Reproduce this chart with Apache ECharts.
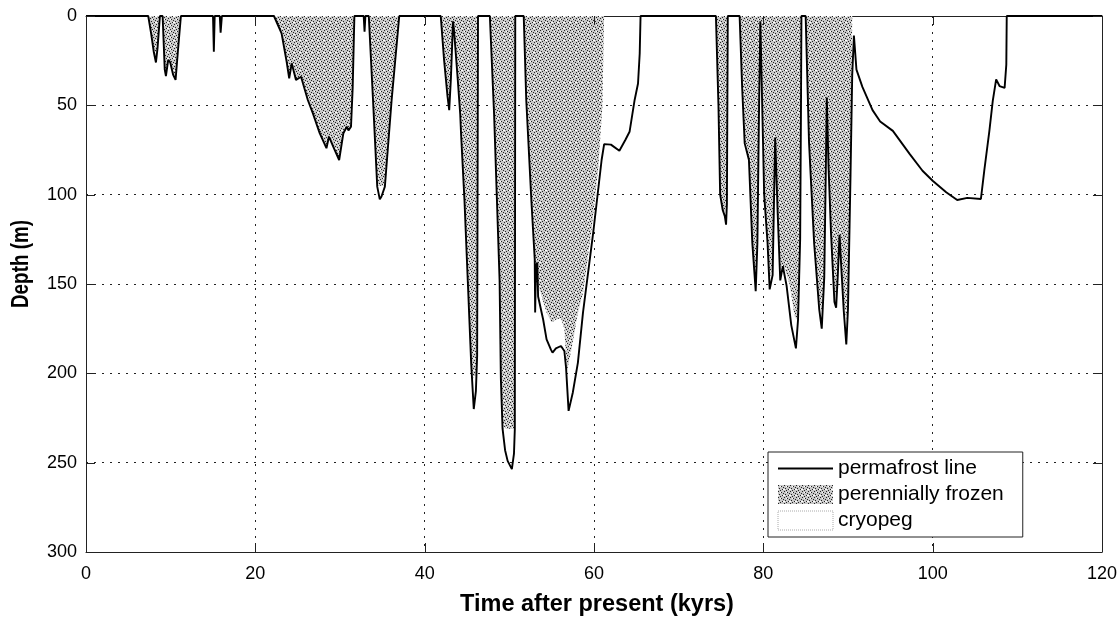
<!DOCTYPE html>
<html>
<head>
<meta charset="utf-8">
<script src="https://cdn.jsdelivr.net/npm/echarts@6.0.0/dist/echarts.min.js"></script>
<style>html,body{margin:0;padding:0;background:#fff}#c{width:1120px;height:623px}</style>
</head>
<body>
<div id="c"></div>
<script>
// Time after present (kyrs), depth (m)
const timeTicks = [0, 20, 40, 60, 80, 100, 120];
const depthTicks = [0, 50, 100, 150, 200, 250, 300];

const permafrostLine = [
  [0,0],
  [7.35,0],[7.7,10],[8.0,20],[8.26,26],[8.45,18],[8.73,0],
  [9.05,0],[9.3,30],[9.44,33.6],[9.71,24.6],[9.95,26],[10.3,33],[10.58,35.8],[10.85,20],[11.21,0],
  [15.0,0],[15.1,20],[15.2,0],[15.8,0],[15.9,9.3],[16.05,0],
  [22.2,0],[23.1,9.7],[23.7,25.6],[24.0,34.9],[24.3,26.5],[24.8,35.8],[25.4,34],[26.2,47],[26.8,54.5],
  [27.6,65.6],[28.4,74],[28.7,67.5],[29.2,73.1],[29.9,80.6],[30.4,65.6],[30.8,62],[31.0,64],[31.3,62],[31.5,40],[31.7,0],
  [32.8,0],[32.9,8.8],[33.0,0],
  [33.4,0],[33.9,47],[34.4,95.5],[34.7,102.6],[34.9,101],[35.3,95.5],[36.1,47],[37.0,0],
  [41.9,0],[42.3,25],[42.7,45],[42.9,52.7],[43.1,35],[43.35,3],[43.5,10],[43.9,35],[44.2,55],[44.3,66],
  [44.7,103],[45.1,149],[45.5,195],[45.8,220],[46.05,210],[46.2,190],[46.3,0],
  [47.7,0],[48.2,55],[48.85,148],[49.0,203],[49.2,231],[49.5,243],[49.8,249],[50.3,253.6],[50.55,245],[50.65,231],[50.7,0],
  [51.7,0],[52.0,47],[52.6,103],[53.0,136],[53.05,166],[53.15,140],[53.3,138],[53.4,157],[54.0,170],[54.4,181],
  [54.9,186.6],[55.1,188.4],[55.5,186],[56.1,184.7],[56.5,187.5],[56.7,196.8],[57.0,221],[57.5,210.7],[58.1,194],
  [58.7,166],[59.9,121.5],[60.9,80.6],[61.2,71.7],[62.0,72],[63.0,75.4],[63.7,69.4],[64.2,64.8],[64.8,47],
  [65.2,37.8],[65.4,21],[65.5,0],
  [74.4,0],[74.7,50],[74.9,100],[75.2,108.5],[75.45,112],[75.6,116.8],[75.7,105],[75.8,0],
  [77.2,0],[77.5,40],[77.8,71.3],[78.3,80.6],[78.7,127],[79.1,154],[79.3,127],[79.5,50],[79.65,3],
  [79.75,3],[80.1,100],[80.5,127],[80.75,153],[81.1,145],[81.4,68],[81.7,111],[82.0,148],[82.3,140],[82.5,141],
  [82.75,151],[83.3,173],[83.85,186],[84.1,170],[84.35,125],[84.45,50],[84.5,0],
  [85.0,0],[85.4,71],[86.0,127],[86.6,164],[86.9,175],[87.2,146],[87.4,80],[87.5,45.6],[87.7,84],[88.0,122],
  [88.4,160],[88.6,163.3],[88.8,145],[89.0,122.4],[89.2,140],[89.5,165],[89.8,183.8],[90.0,164],[90.3,89],
  [90.5,33],[90.7,11],[91.0,30],[91.7,39.7],[92.9,52.7],[93.8,59],[95.3,64.3],[97.3,77.3],[98.8,86.6],
  [100.0,92.2],[101.6,98.7],[102.9,103],[104.1,101.8],[105.7,102.4],[106.1,86.4],[106.7,64.3],[107.1,47.5],
  [107.5,35.5],[107.9,39.2],[108.5,40.2],[108.7,27.2],[108.75,0],
  [120,0]
];

const perenniallyFrozen = [
  [0,0],
  [7.35,0],[7.7,10],[8.0,20],[8.26,24],[8.45,18],[8.73,0],
  [9.05,0],[9.3,30],[9.44,32],[9.71,24.6],[9.95,26],[10.3,33],[10.58,34],[10.85,20],[11.21,0],
  [15.0,0],[15.1,18],[15.2,0],[15.8,0],[15.9,8],[16.05,0],
  [22.2,0],[23.1,9.7],[23.7,25.6],[24.0,34.9],[24.3,26.5],[24.8,35.8],[25.4,34],[26.2,47],[26.8,54.5],
  [27.6,65.6],[28.4,74],[28.7,67.5],[29.2,73.1],[29.9,80],[30.4,65.6],[30.8,62],[31.0,64],[31.3,62],[31.5,40],[31.7,0],
  [32.8,0],[32.9,8],[33.0,0],
  [33.4,0],[33.9,47],[34.4,95],[34.6,96],[35.2,95],[36.1,47],[37.0,0],
  [41.9,0],[42.3,25],[42.7,45],[42.9,52],[43.1,35],[43.35,3],[43.5,10],[43.9,35],[44.2,55],[44.3,66],
  [44.7,103],[45.1,149],[45.5,195],[45.7,203],[46.15,200],[46.25,150],[46.3,0],
  [47.7,0],[48.2,55],[48.85,148],[49.0,203],[49.2,229],[49.6,231],[50.6,231],[50.65,0],
  [51.7,0],[52.0,47],[52.6,103],[53.0,136],[53.1,150],[53.5,152],[54.4,166],[55.0,171.5],[55.5,170],[56.1,169],
  [56.5,175],[56.8,199],[57.4,185],[58.1,166],[58.7,155],[59.7,120],[60.5,85],[61.0,50],[61.15,10],[61.2,0],
  [74.4,0],[74.7,50],[74.9,100],[75.2,108],[75.5,110],[75.7,100],[75.8,0],
  [77.2,0],[77.5,40],[77.8,71.3],[78.3,80.6],[78.7,127],[79.0,148],[79.2,145],[79.3,127],[79.5,50],[79.65,3],
  [79.75,3],[80.1,100],[80.5,127],[80.7,148],[81.1,140],[81.4,68],[81.7,111],[82.0,140],[82.5,141],
  [83.1,150],[83.7,168],[84.0,170],[84.1,168],[84.35,125],[84.45,50],[84.5,0],
  [85.0,0],[85.4,71],[86.0,127],[86.6,160],[86.9,165],[87.2,146],[87.4,80],[87.5,45.6],[87.7,84],[88.0,122],
  [88.4,155],[88.6,158],[88.8,145],[89.0,122.4],[89.2,140],[89.5,160],[89.8,170],[90.0,160],[90.3,89],
  [90.45,30],[90.5,0],
  [120,0]
];

const seriesNames = ['permafrost line', 'perennially frozen', 'cryopeg'];

function makeStipple() {
  const c = document.createElement('canvas');
  c.width = 6; c.height = 6;
  const g = c.getContext('2d');
  g.fillStyle = '#c8c8c8';
  g.fillRect(0, 0, 6, 6);
  g.fillStyle = '#222';
  [[0,0],[3,1],[1,3],[4,4],[2,5],[5,2]].forEach(p => g.fillRect(p[0], p[1], 1, 1));
  g.fillStyle = '#fff';
  [[2,1],[5,4],[0,4]].forEach(p => g.fillRect(p[0], p[1], 1, 1));
  return c;
}
const stipple = { image: makeStipple(), repeat: 'repeat' };

const chart = echarts.init(document.getElementById('c'), null, { renderer: 'canvas' });
const font = 'Liberation Sans, Arial, sans-serif';

function makeAxis(kind, pos, withLabels) {
  const ticks = kind === 'x' ? timeTicks : depthTicks;
  const ax = {
    type: 'value',
    position: pos,
    min: ticks[0],
    max: ticks[ticks.length - 1],
    interval: ticks[1] - ticks[0],
    axisLine: { show: true, onZero: false, lineStyle: { color: '#222', width: 1 } },
    axisTick: { show: false },
    axisLabel: withLabels
      ? { show: true, color: '#000', fontSize: 18, fontFamily: font, margin: kind === 'x' ? 13 : 9 }
      : { show: false },
    splitLine: withLabels
      ? { show: true, lineStyle: { color: '#222', width: 1, type: [2, 6] } }
      : { show: false }
  };
  if (kind === 'y') ax.inverse = true;
  return ax;
}

const titleGraphics = [
  {
    type: 'text', x: 597, y: 605,
    style: { text: 'Time after present (kyrs)', font: 'bold 23.5px ' + font, fill: '#000', textAlign: 'center', textVerticalAlign: 'middle' }
  },
  {
    type: 'text', x: 22, y: 264, rotation: Math.PI / 2, scaleX: 0.82,
    style: { text: 'Depth (m)', font: 'bold 23px ' + font, fill: '#000', textAlign: 'center', textVerticalAlign: 'middle' }
  }
];

chart.setOption({
  animation: false,
  backgroundColor: '#fff',
  grid: { left: 86, right: 17, top: 16, bottom: 71 },
  xAxis: [makeAxis('x', 'bottom', true), makeAxis('x', 'top', false)],
  yAxis: [makeAxis('y', 'left', true), makeAxis('y', 'right', false)],
  legend: {
    orient: 'vertical', left: 768, top: 452,
    padding: [6, 19, 6, 9],
    itemWidth: 55, itemHeight: 19, itemGap: 5,
    backgroundColor: '#fff', borderColor: '#222', borderWidth: 1, borderRadius: 0,
    textStyle: { color: '#000', fontSize: 21, fontFamily: font },
    selectedMode: false,
    data: [
      { name: seriesNames[0], itemStyle: { opacity: 0 }, lineStyle: { width: 2, color: '#000' } },
      { name: seriesNames[1], icon: 'rect', itemStyle: { color: stipple } },
      { name: seriesNames[2], icon: 'rect', itemStyle: { color: '#fff', borderColor: '#aaa', borderWidth: 1, borderType: 'dotted' } }
    ]
  },
  graphic: titleGraphics,
  series: [
    {
      name: seriesNames[1], type: 'line', data: perenniallyFrozen, symbol: 'none', showSymbol: false,
      lineStyle: { width: 0, color: '#999' }, itemStyle: { color: stipple },
      areaStyle: { color: stipple, opacity: 1, origin: 'start' }, z: 2, silent: true
    },
    {
      name: seriesNames[0], type: 'line', data: permafrostLine, symbol: 'none', showSymbol: false,
      lineStyle: { width: 1.9, color: '#000' }, itemStyle: { color: '#000' }, z: 3, silent: true
    },
    {
      name: seriesNames[2], type: 'line', data: [], symbol: 'none',
      itemStyle: { color: '#fff', borderColor: '#aaa' }, lineStyle: { width: 0 }
    }
  ]
});

// Inward tick marks on all four sides, positioned through the axis scales
(function addTicks() {
  const tl = chart.convertToPixel({ gridIndex: 0 }, [timeTicks[0], depthTicks[0]]);
  const br = chart.convertToPixel({ gridIndex: 0 }, [timeTicks[timeTicks.length - 1], depthTicks[depthTicks.length - 1]]);
  const L = 9;
  const ticks = [];
  const st = { stroke: '#222', lineWidth: 1 };
  timeTicks.forEach(t => {
    const x = Math.round(chart.convertToPixel({ xAxisIndex: 0 }, t)) + 0.5;
    ticks.push({ type: 'line', silent: true, z: 10, shape: { x1: x, y1: br[1], x2: x, y2: br[1] - L }, style: st });
    ticks.push({ type: 'line', silent: true, z: 10, shape: { x1: x, y1: tl[1], x2: x, y2: tl[1] + L }, style: st });
  });
  depthTicks.forEach(d => {
    const y = Math.round(chart.convertToPixel({ yAxisIndex: 0 }, d)) + 0.5;
    ticks.push({ type: 'line', silent: true, z: 10, shape: { x1: tl[0], y1: y, x2: tl[0] + L, y2: y }, style: st });
    ticks.push({ type: 'line', silent: true, z: 10, shape: { x1: br[0], y1: y, x2: br[0] - L, y2: y }, style: st });
  });
  chart.setOption({ graphic: titleGraphics.concat(ticks) });
})();
</script>
</body>
</html>
